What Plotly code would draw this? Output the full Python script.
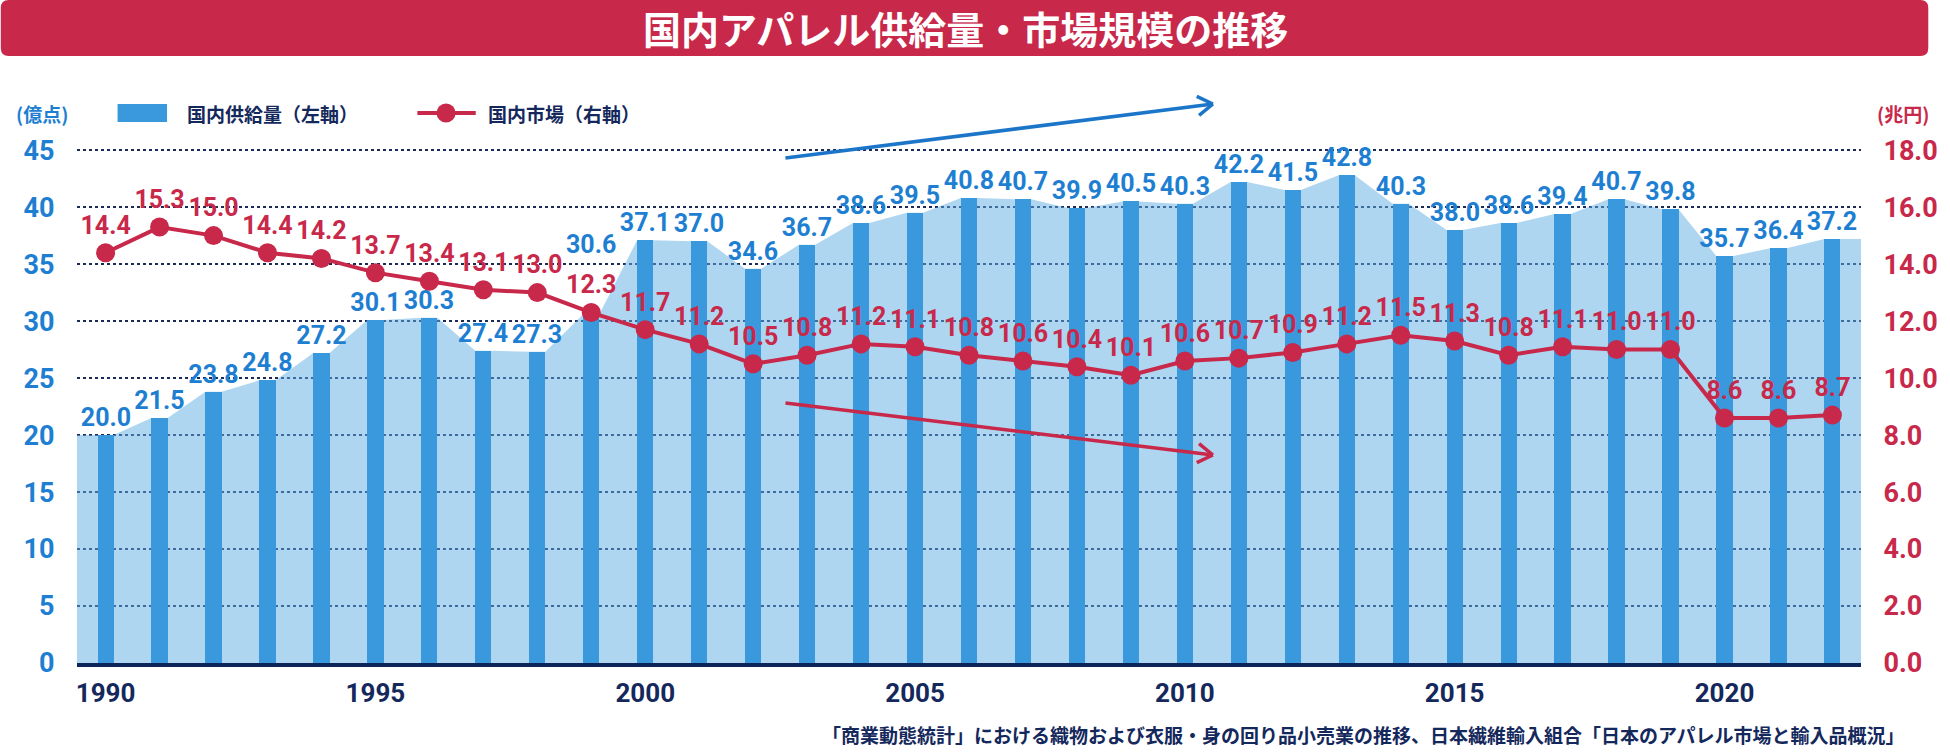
import math
import plotly.graph_objects as go

# ------------------------------------------------------------
# data
years = list(range(1990, 2023))

# 国内供給量 (億点) - left axis, bars
supply = [20.0, 21.5, 23.8, 24.8, 27.2, 30.1, 30.3, 27.4, 27.3, 30.6,
          37.1, 37.0, 34.6, 36.7, 38.6, 39.5, 40.8, 40.7, 39.9, 40.5,
          40.3, 42.2, 41.5, 42.8, 40.3, 38.0, 38.6, 39.4, 40.7, 39.8,
          35.7, 36.4, 37.2]

# 国内市場 (兆円) - right axis, line
market = [14.4, 15.3, 15.0, 14.4, 14.2, 13.7, 13.4, 13.1, 13.0, 12.3,
          11.7, 11.2, 10.5, 10.8, 11.2, 11.1, 10.8, 10.6, 10.4, 10.1,
          10.6, 10.7, 10.9, 11.2, 11.5, 11.3, 10.8, 11.1, 11.0, 11.0,
          8.6, 8.6, 8.7]

left_ticks = [0, 5, 10, 15, 20, 25, 30, 35, 40, 45]
right_ticks = [0, 2, 4, 6, 8, 10, 12, 14, 16, 18]
right_tick_labels = ['0.0', '2.0', '4.0', '6.0', '8.0', '10.0', '12.0', '14.0', '16.0', '18.0']
x_ticks = [1990, 1995, 2000, 2005, 2010, 2015, 2020]

# the bar label of this year is lifted above the red label
LIFTED_YEAR = 1999

# ------------------------------------------------------------
# look & layout
W, H = 1950, 755
L, R, T, B = 77, 70, 149, 92
PW, PH = W - L - R, H - T - B

RED = '#c8284a'
BLUE_BAR = '#3a98dc'
BLUE_TXT = '#1e7fd2'
NAVY = '#14285c'
NUM_FONT = 'Roboto'
JP_FONT = 'Noto Sans CJK JP'

BAR_W = 0.3
X_RANGE = [1989.47, 2022.53]
# a hair above 45 so the top dotted gridline is still drawn
Y_TOP = 45.1
Y2_TOP = 18 * Y_TOP / 45


def pp(px, py):
    # pixel position -> paper coordinates (for decorations only)
    return (px - L) / PW, (T + PH - py) / PH


# light blue area connects the bar tops
area_x = [X_RANGE[0]]
area_y = [supply[0]]
for yr, v in zip(years, supply):
    area_x += [yr - BAR_W / 2, yr + BAR_W / 2]
    area_y += [v, v]
area_x.append(X_RANGE[1])
area_y.append(supply[-1])

bar_text = ['' if yr == LIFTED_YEAR else f'{v:.1f}' for yr, v in zip(years, supply)]

fig = go.Figure()

# area on the main axis (below), bars on an overlay so they sit on top of it
fig.add_trace(go.Scatter(
    x=area_x, y=area_y, mode='lines', fill='tozeroy',
    line=dict(width=0), fillcolor='rgba(93,173,225,0.5)',
    hoverinfo='skip', showlegend=False))

fig.add_trace(go.Bar(
    x=years, y=supply, width=BAR_W, yaxis='y2',
    marker=dict(color=BLUE_BAR, line=dict(width=0)),
    text=bar_text, textposition='outside',
    outsidetextfont=dict(family=NUM_FONT, size=25, color=BLUE_TXT, weight='bold'),
    constraintext='none', cliponaxis=False, showlegend=False))

fig.add_trace(go.Scatter(
    x=years, y=market, yaxis='y3', mode='lines+markers+text',
    line=dict(color=RED, width=4),
    marker=dict(color=RED, size=19),
    text=[f'{v:.1f}' for v in market], textposition='top center',
    textfont=dict(family=NUM_FONT, size=25, color=RED, weight='bold'),
    cliponaxis=False, showlegend=False))

# ------------------------------------------------------------
# decorations: title bar, legend, arrows
shapes = []
annotations = []

i = years.index(LIFTED_YEAR)
annotations.append(dict(x=years[i], y=supply[i], xref='x', yref='y2', showarrow=False,
                        yanchor='middle', yshift=70, text=f'{supply[i]:.1f}',
                        font=dict(family=NUM_FONT, size=25, color=BLUE_TXT, weight='bold')))


def label(px, py, text, size, color, xanchor='center'):
    x, y = pp(px, py)
    annotations.append(dict(x=x, y=y, xref='paper', yref='paper', showarrow=False,
                            xanchor=xanchor, yanchor='middle', text=text,
                            font=dict(family=JP_FONT, size=size, color=color, weight='bold')))


# title bar with rounded corners
x0, y0 = pp(0, 0)
x1, y1 = pp(W - 2, 56)
rx, ry = 8 / PW, 8 / PH
shapes.append(dict(
    type='path', xref='paper', yref='paper', layer='below',
    path=(f'M {x0 + rx},{y0} L {x1 - rx},{y0} Q {x1},{y0} {x1},{y0 - ry} '
          f'L {x1},{y1 + ry} Q {x1},{y1} {x1 - rx},{y1} L {x0 + rx},{y1} '
          f'Q {x0},{y1} {x0},{y1 + ry} L {x0},{y0 - ry} Q {x0},{y0} {x0 + rx},{y0} Z'),
    fillcolor=RED, line=dict(width=0)))
label(W / 2, 28, '国内アパレル供給量・市場規模の推移', 38, 'white')

# legend
lx0, ly0 = pp(118, 104)
lx1, ly1 = pp(168, 122)
shapes.append(dict(type='rect', xref='paper', yref='paper',
                   x0=lx0, y0=ly0, x1=lx1, y1=ly1,
                   fillcolor=BLUE_BAR, line=dict(width=0)))
label(186, 113, '国内供給量（左軸）', 19, NAVY, 'left')
sx0, sy = pp(421, 113)
sx1, _ = pp(480, 113)
shapes.append(dict(type='line', xref='paper', yref='paper',
                   x0=sx0, y0=sy, x1=sx1, y1=sy, line=dict(color=RED, width=4)))
cx, cy = pp(450, 113)
shapes.append(dict(type='circle', xref='paper', yref='paper',
                   xsizemode='pixel', ysizemode='pixel', xanchor=cx, yanchor=cy,
                   x0=-9.5, x1=9.5, y0=-9.5, y1=9.5,
                   fillcolor=RED, line=dict(width=0)))
label(490, 113, '国内市場（右軸）', 19, NAVY, 'left')

# axis units
label(42, 113, '(億点)', 19, BLUE_TXT)
label(1922, 113, '(兆円)', 19, RED)

# source note
label(1926, 734, '「商業動態統計」における織物および衣服・身の回り品小売業の推移、'
      '日本繊維輸入組合「日本のアパレル市場と輸入品概況」', 19, NAVY, 'right')


def arrow(p0, p1, color):
    # straight line with an open chevron head, given in pixels
    out = []
    a0 = pp(*p0)
    a1 = pp(*p1)
    out.append(dict(type='line', xref='paper', yref='paper',
                    x0=a0[0], y0=a0[1], x1=a1[0], y1=a1[1],
                    line=dict(color=color, width=3.5)))
    ang = math.atan2(p1[1] - p0[1], p1[0] - p0[0])
    for d in (math.radians(32), -math.radians(32)):
        bx = p1[0] - 18 * math.cos(ang + d)
        by = p1[1] - 18 * math.sin(ang + d)
        b = pp(bx, by)
        out.append(dict(type='line', xref='paper', yref='paper',
                        x0=b[0], y0=b[1], x1=a1[0], y1=a1[1],
                        line=dict(color=color, width=3.5)))
    return out


shapes += arrow((793, 158), (1225, 104), '#1b75c9')
shapes += arrow((793, 403), (1225, 455), RED)

fig.update_layout(
    width=W, height=H,
    margin=dict(l=L, r=R, t=T, b=B, pad=0),
    paper_bgcolor='white', plot_bgcolor='white',
    bargap=0, showlegend=False,
    xaxis=dict(
        range=X_RANGE, tickvals=x_ticks, showgrid=False, zeroline=False,
        showline=True, linecolor='#0d2558', linewidth=4,
        ticks='outside', ticklen=4, tickcolor='rgba(0,0,0,0)',
        tickfont=dict(family=NUM_FONT, size=26, color=NAVY, weight='bold')),
    yaxis=dict(
        range=[0, Y_TOP], tickvals=left_ticks, showgrid=True,
        gridcolor='#1c2a58', gridwidth=1.5, griddash='dot', zeroline=False,
        ticks='outside', ticklen=16, tickcolor='rgba(0,0,0,0)',
        tickfont=dict(family=NUM_FONT, size=27, color=BLUE_TXT, weight='bold')),
    # hidden copy of the left scale for the bars
    yaxis2=dict(range=[0, Y_TOP], overlaying='y', visible=False),
    yaxis3=dict(
        range=[0, Y2_TOP], tickvals=right_ticks, ticktext=right_tick_labels,
        overlaying='y', side='right', showgrid=False, zeroline=False,
        ticks='outside', ticklen=16, tickcolor='rgba(0,0,0,0)',
        tickfont=dict(family=NUM_FONT, size=27, color=RED, weight='bold')),
    shapes=shapes,
    annotations=annotations,
)

fig.write_html('out.html', config={'displayModeBar': False},
               post_script="document.body.style.margin='0';")
